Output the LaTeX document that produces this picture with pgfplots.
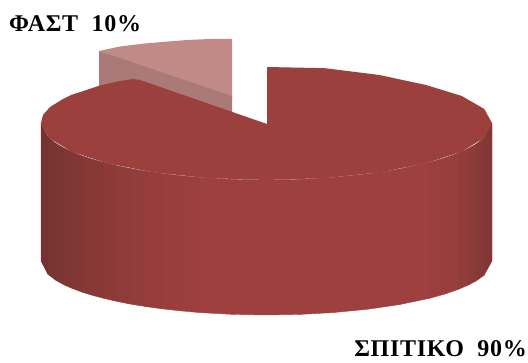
\documentclass[border=0pt]{standalone}
\usepackage{pgfplots}
\pgfplotsset{compat=1.18}
\usepackage{fontspec}
\setmainfont{Liberation Serif}
\definecolor{pieTop}{HTML}{9C403D}
\definecolor{paleTop}{HTML}{C28A87}
\definecolor{paleSide}{HTML}{AA7A78}
\definecolor{rimDark}{HTML}{743330}
\definecolor{rimMid}{HTML}{9E403F}
% one vertical strip of the shaded rim: share of the dark colour, then the outline
\newcommand{\rimstrip}[2]{\addplot[fill={rimDark!#1!rimMid},draw={rimDark!#1!rimMid},line width=0.4pt] coordinates {#2} -- cycle;}
\newcommand{\pielabel}[1]{\fontsize{24}{26}\selectfont\bfseries\addfontfeature{LetterSpace=3}#1}
\begin{document}
\begin{tikzpicture}
\useasboundingbox (0,0) rectangle (528pt,363pt);
\begin{axis}[
  at={(0,0)},anchor=south west,
  scale only axis,width=528pt,height=363pt,
  xmin=0,xmax=528,ymin=0,ymax=363,y dir=reverse,
  hide axis,clip=false]

% the pulled-out slice
\addplot[fill=paleTop,draw=none] coordinates {
  (99,51) (120,46.5) (145,43.5) (168,41.5) (187,40) (210,39) (232,39) (232,100)} -- cycle;
\addplot[fill=paleSide,draw=none] coordinates {
  (99,51) (232,96) (232,113) (140,90) (99,90)} -- cycle;

% rim of the large slice, left shading
\rimstrip{100}{(41,123) (48,137.1) (48,274.3) (41,261)}
\rimstrip{92}{(48,137.1) (56,143.4) (56,280.4) (48,274.3)}
\rimstrip{84}{(56,143.4) (64,148.1) (64,284.8) (56,280.4)}
\rimstrip{76}{(64,148.1) (72,151.8) (72,288.3) (64,284.8)}
\rimstrip{68}{(72,151.8) (82,155.8) (82,292.1) (72,288.3)}
\rimstrip{60}{(82,155.8) (92,159.1) (92,295.2) (82,292.1)}
\rimstrip{52}{(92,159.1) (104,162.5) (104,298.4) (92,295.2)}
\rimstrip{44}{(104,162.5) (116,165.5) (116,301.2) (104,298.4)}
\rimstrip{36}{(116,165.5) (130,168.4) (130,304) (116,301.2)}
\rimstrip{28}{(130,168.4) (146,171.2) (146,306.6) (130,304)}
\rimstrip{20}{(146,171.2) (162,173.5) (162,308.8) (146,306.6)}
\rimstrip{12}{(162,173.5) (180,175.6) (180,310.8) (162,308.8)}
\rimstrip{6}{(180,175.6) (200,177.4) (200,312.6) (180,310.8)}
% rim, flat middle
\rimstrip{0}{(200,177.4) (233,179.4) (266.5,180) (300,179.4) (333,177.4) (368,173.9) (400,168.9) (430,162.2)
  (430,298.2) (400,304.5) (368,309.2) (333,312.6) (300,314.4) (266.5,315) (233,314.4) (200,312.6)}
% rim, right shading
\rimstrip{6}{(430,162.2) (445,157.8) (445,294) (430,298.2)}
\rimstrip{15}{(445,157.8) (458,153.1) (458,289.5) (445,294)}
\rimstrip{28}{(458,153.1) (468,148.6) (468,285.2) (458,289.5)}
\rimstrip{40}{(468,148.6) (476,144.1) (476,281) (468,285.2)}
\rimstrip{52}{(476,144.1) (484,138) (484,275.3) (476,281)}
\rimstrip{68}{(484,138) (492,123) (492,261) (484,275.3)}

% top face of the large slice
\addplot[fill=pieTop,draw=none] coordinates {
  (267,67) (324.9,68.2) (379.3,75) (426,85) (461.8,96) (484.3,109) (492,123)
  (484.3,137.8) (461.8,151.5) (426,163.3) (379.3,172.4) (324.9,178.1) (266.5,180)
  (208.1,178.1) (153.7,172.4) (107,163.3) (71.2,151.5) (48.7,137.8) (41,123)
  (43,115) (50,107) (63,99) (71.2,95) (100,85.5) (120,81) (133,79) (140,80) (267,124)} -- cycle;

% slice labels
\node[anchor=base west,inner sep=0pt] at (axis cs:9,32) {\pielabel{ΦΑΣΤ\ \ 10\%}};
\node[anchor=base east,inner sep=0pt] at (axis cs:527,357) {\pielabel{ΣΠΙΤΙΚΟ\ \ 90\%}};
\end{axis}
\end{tikzpicture}
\end{document}
